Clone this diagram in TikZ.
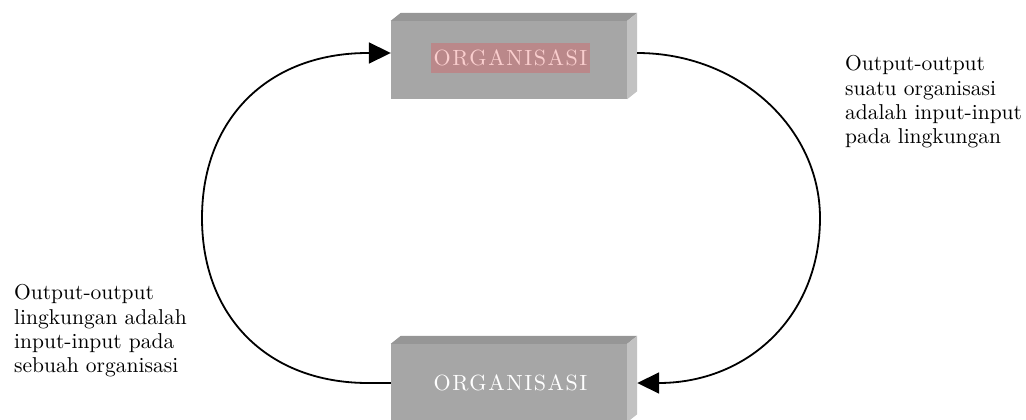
\documentclass[tikz,border=0pt]{standalone}
\usepackage{fontspec}
\usetikzlibrary{arrows.meta}
\newfontfamily\notefont{lmroman10-regular.otf}
\newfontfamily\orgfont[LetterSpace=7]{lmroman10-regular.otf}
\definecolor{frontgray}{RGB}{166,166,166}
\definecolor{topgray}{RGB}{150,150,150}
\definecolor{sidegray}{RGB}{194,194,194}
\definecolor{markbg}{RGB}{186,136,138}
\definecolor{marktext}{RGB}{250,206,206}
\tikzset{
  orgbox/.style={fill=frontgray, draw=none, minimum width=236pt, minimum height=78pt, inner sep=0pt},
  topface/.style={fill=topgray},
  sideface/.style={fill=sidegray},
  orglabel/.style={font=\orgfont\fontsize{22}{24}\selectfont, inner sep=0pt},
  note/.style={font=\notefont\fontsize{21.5}{24.3}\selectfont, align=left, anchor=north west, inner sep=0pt},
  flow/.style={line width=1.8pt, -{Triangle[length=22pt,width=21pt]}}
}
\begin{document}
\begin{tikzpicture}[x=1pt,y=-1pt]
\useasboundingbox (0,0) rectangle (1026,420);

% the two organisation blocks, drawn as shaded 3D boxes
\node[orgbox] (org1) at (509,60) {};
\node[orgbox] (org2) at (509,383) {};
\foreach \b in {org1,org2} {
  \fill[topface] (\b.north west) -- ++(10,-8) -- ([shift={(10pt,8pt)}]\b.north east) -- (\b.north east) -- cycle;
  \fill[sideface] (\b.north east) -- ++(10,-8) -- ([shift={(10pt,8pt)}]\b.south east) -- (\b.south east) -- cycle;
}

\node[orglabel, fill=markbg, text=marktext, minimum width=159pt, minimum height=30pt] (lbl1) at (510.5,58) {ORGANISASI};
\node[orglabel, text=white] (lbl2) at (510.5,383) {ORGANISASI};

% connection points on the blocks
\coordinate (in1) at ([yshift=7pt]org1.west);
\coordinate (out1) at ([shift={(10pt,7pt)}]org1.east);
\coordinate (out2) at (org2.west);
\coordinate (in2) at ([xshift=10pt]org2.east);

% the cycle between the organisation and its environment (two half ellipses)
\draw[flow] (out2) -- (368,383) .. controls (268,383) and (202,317) .. (202,218)
                   .. controls (202,119) and (268,53) .. (368,53) -- (in1);
\draw[flow] (out1) .. controls (738,53) and (820,127) .. (820,218)
                   .. controls (820,317) and (747,383) .. (in2);

% explanatory notes
\node[note] (noteR) at (845,55.5) {Output-output\\suatu organisasi\\adalah input-input\\pada lingkungan};
\node[note] (noteL) at (14,284.5) {Output-output\\lingkungan adalah\\input-input pada\\sebuah organisasi};
\end{tikzpicture}
\end{document}
